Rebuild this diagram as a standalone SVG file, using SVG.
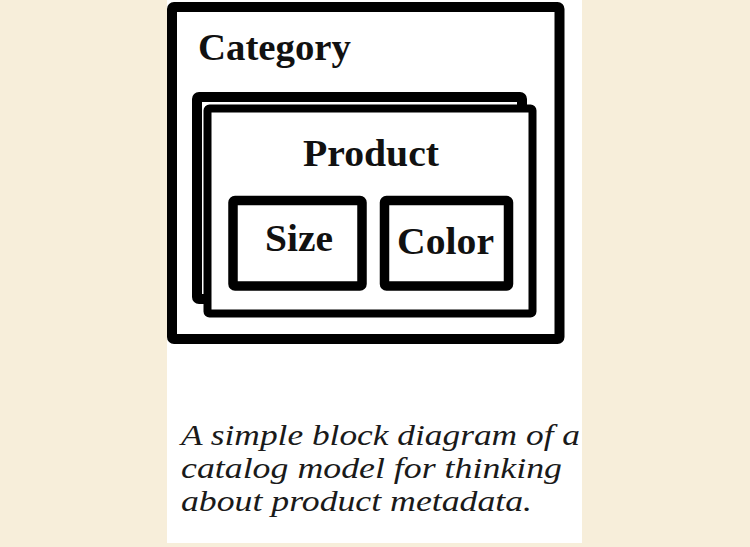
<svg xmlns="http://www.w3.org/2000/svg" width="750" height="547" viewBox="0 0 750 547">
<style>
.box{fill:#fff;stroke:#000;stroke-linejoin:round}
.lbl{font-family:"Liberation Serif","Times New Roman",serif;font-weight:bold;font-size:38px;fill:#111}
.cap{font-family:"Liberation Serif","Times New Roman",serif;font-style:italic;font-size:30px;fill:#1a1a1a}
</style>
<rect width="750" height="547" fill="#F7EEDA"/>
<rect x="167" y="0" width="415" height="543" fill="#fff"/>
<g id="category">
<rect class="box" x="172" y="7" width="387.5" height="332" rx="2" stroke-width="10"/>
<text class="lbl" x="198" y="60" textLength="153" lengthAdjust="spacingAndGlyphs">Category</text>
</g>
<g id="product">
<rect class="box" x="197" y="97" width="325" height="202" rx="2" stroke-width="10"/>
<rect class="box" x="207.5" y="108.5" width="325" height="205" rx="2" stroke-width="8"/>
<text class="lbl" x="303" y="166" textLength="136" lengthAdjust="spacingAndGlyphs">Product</text>
</g>
<g id="size">
<rect class="box" x="233" y="200.5" width="129" height="85.5" rx="2" stroke-width="9.5"/>
<text class="lbl" x="265" y="251" textLength="68" lengthAdjust="spacingAndGlyphs">Size</text>
</g>
<g id="color">
<rect class="box" x="384.5" y="200.5" width="124" height="85.5" rx="2" stroke-width="9.5"/>
<text class="lbl" x="397" y="254" textLength="97" lengthAdjust="spacingAndGlyphs">Color</text>
</g>
<g id="connectors"></g>
<g id="caption">
<text class="cap" x="181" y="445" textLength="399" lengthAdjust="spacingAndGlyphs">A simple block diagram of a</text>
<text class="cap" x="181" y="478" textLength="381" lengthAdjust="spacingAndGlyphs">catalog model for thinking</text>
<text class="cap" x="181" y="511" textLength="351" lengthAdjust="spacingAndGlyphs">about product metadata.</text>
</g>
</svg>
